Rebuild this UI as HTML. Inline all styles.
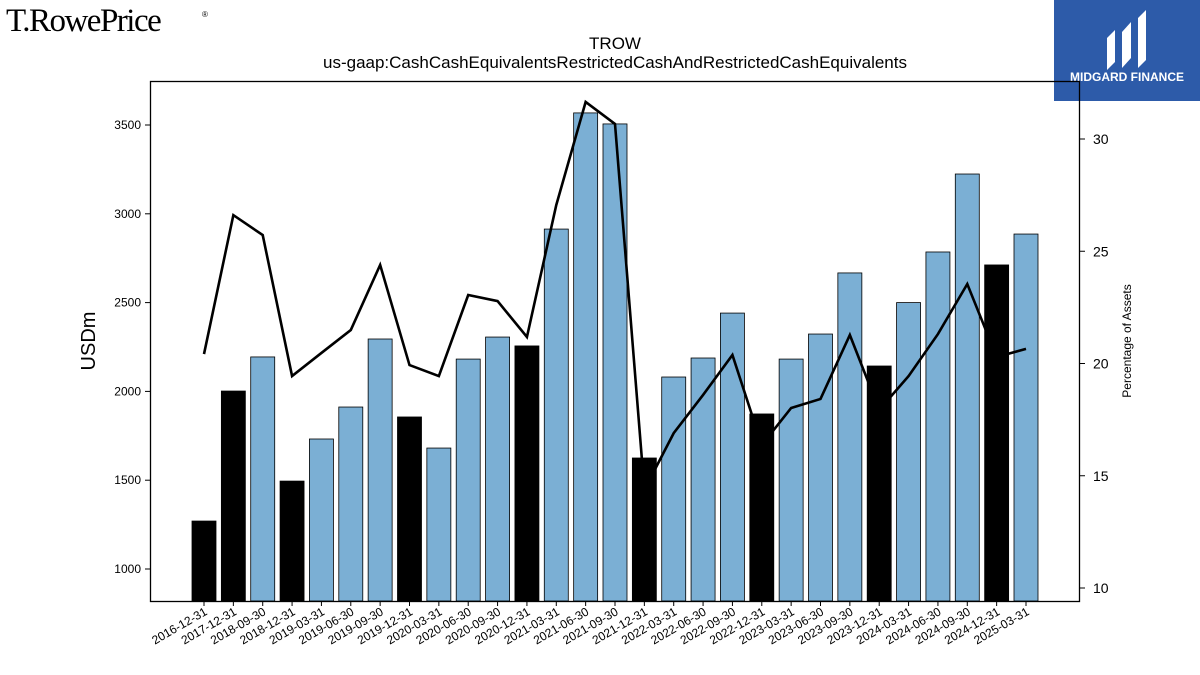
<!DOCTYPE html>
<html><head><meta charset="utf-8"><style>
body{margin:0;background:#fff;font-family:"Liberation Sans",sans-serif}
#wrap{position:relative;width:1200px;height:675px;overflow:hidden}
</style></head><body>
<div id="wrap">
<svg id="chart" width="1200" height="675" xmlns="http://www.w3.org/2000/svg">
<text x="6" y="31" font-family="Liberation Serif,serif" font-size="33" letter-spacing="-1.5" fill="#000">T.RowePrice</text>
<text x="202" y="17" font-size="8" fill="#000">®</text>
<g>
<rect x="1054" y="0" width="146" height="101" fill="#2d5ba9"/>
<path d="M1107 70 L1107 38 L1115 30 L1115 62 Z M1122 68 L1122 32 L1131 22 L1131 58 Z M1138 68 L1138 18 L1146 10 L1146 60 Z" fill="#fff"/>
<text x="1127" y="81" text-anchor="middle" font-size="12" font-weight="bold" fill="#fff">MIDGARD FINANCE</text>
</g>
<text x="615" y="49" text-anchor="middle" font-size="17">TROW</text>
<text x="615" y="68" text-anchor="middle" font-size="17">us-gaap:CashCashEquivalentsRestrictedCashAndRestrictedCashEquivalents</text>
<g id="bars"></g><g id="line"></g><g id="axes"></g>
<rect x="150.5" y="81.5" width="929" height="520" fill="none" stroke="#000" stroke-width="1.3"/>
<text transform="translate(95,341) rotate(-90)" text-anchor="middle" font-size="20">USDm</text>
<text transform="translate(1131,341) rotate(-90)" text-anchor="middle" font-size="12">Percentage of Assets</text>
</svg></div>
<script>
const categories=["2016-12-31","2017-12-31","2018-09-30","2018-12-31","2019-03-31","2019-06-30","2019-09-30","2019-12-31","2020-03-31","2020-06-30","2020-09-30","2020-12-31","2021-03-31","2021-06-30","2021-09-30","2021-12-31","2022-03-31","2022-06-30","2022-09-30","2022-12-31","2023-03-31","2023-06-30","2023-09-30","2023-12-31","2024-03-31","2024-06-30","2024-09-30","2024-12-31","2025-03-31"];
const cashValues=[1270,2002,2194,1495,1732,1912,2295,1856,1681,2182,2306,2256,2914,3568,3506,1625,2081,2188,2441,1873,2182,2323,2667,2143,2500,2785,3224,2712,2886];
const pctAssets=[20.42,26.61,25.72,19.44,20.47,21.49,24.39,19.93,19.44,23.05,22.78,21.18,27.06,31.65,30.67,14.37,16.9,18.6,20.38,16.37,18.02,18.42,21.27,17.93,19.44,21.31,23.54,20.29,20.65];
const leftTicks=[1000,1500,2000,2500,3000,3500];
const rightTicks=[10,15,20,25,30];
const NS="http://www.w3.org/2000/svg";
const X0=150,X1=1079,Y0=81,Y1=601;
const yL=v=>569-(v-1000)*0.1776;
const yR=p=>588-(p-10)*22.45;
const xC=i=>204+i*(822/28);
function mk(t,a,p){const e=document.createElementNS(NS,t);for(const k in a)e.setAttribute(k,a[k]);p.appendChild(e);return e;}
const gb=document.getElementById('bars'),gl=document.getElementById('line'),ga=document.getElementById('axes');
categories.forEach((c,i)=>{
 const dec=c.endsWith('12-31');
 const r=mk('rect',{x:xC(i)-12,y:yL(cashValues[i]),width:24,height:Y1-yL(cashValues[i]),fill:dec?'#000':'#7bafd4',stroke:'#000','stroke-width':0.8},gb);
 
 
 const tk=mk('line',{x1:xC(i),x2:xC(i),y1:Y1,y2:Y1+5,stroke:'#000'},ga);
 
 
 const t=mk('text',{transform:`translate(${xC(i)+4},${Y1+13}) rotate(-30)`,'text-anchor':'end','font-size':12},ga);
 t.textContent=c;
 
 
});
const pl=mk('polyline',{points:pctAssets.map((p,i)=>xC(i)+','+yR(p)).join(' '),fill:'none',stroke:'#000','stroke-width':2.6},gl);


leftTicks.forEach(v=>{
 const l=mk('line',{x1:X0-5,x2:X0,y1:yL(v),y2:yL(v),stroke:'#000'},ga);
 
 
 const t=mk('text',{x:X0-9,y:yL(v)+4,'text-anchor':'end','font-size':12},ga);
 t.textContent=v;
 
 
});
rightTicks.forEach(v=>{
 const l=mk('line',{x1:X1,x2:X1+6,y1:yR(v),y2:yR(v),stroke:'#000'},ga);
 
 
 const t=mk('text',{x:X1+14,y:yR(v)+5,'font-size':14},ga);
 t.textContent=v;
 
 
});
</script>
</body></html>
